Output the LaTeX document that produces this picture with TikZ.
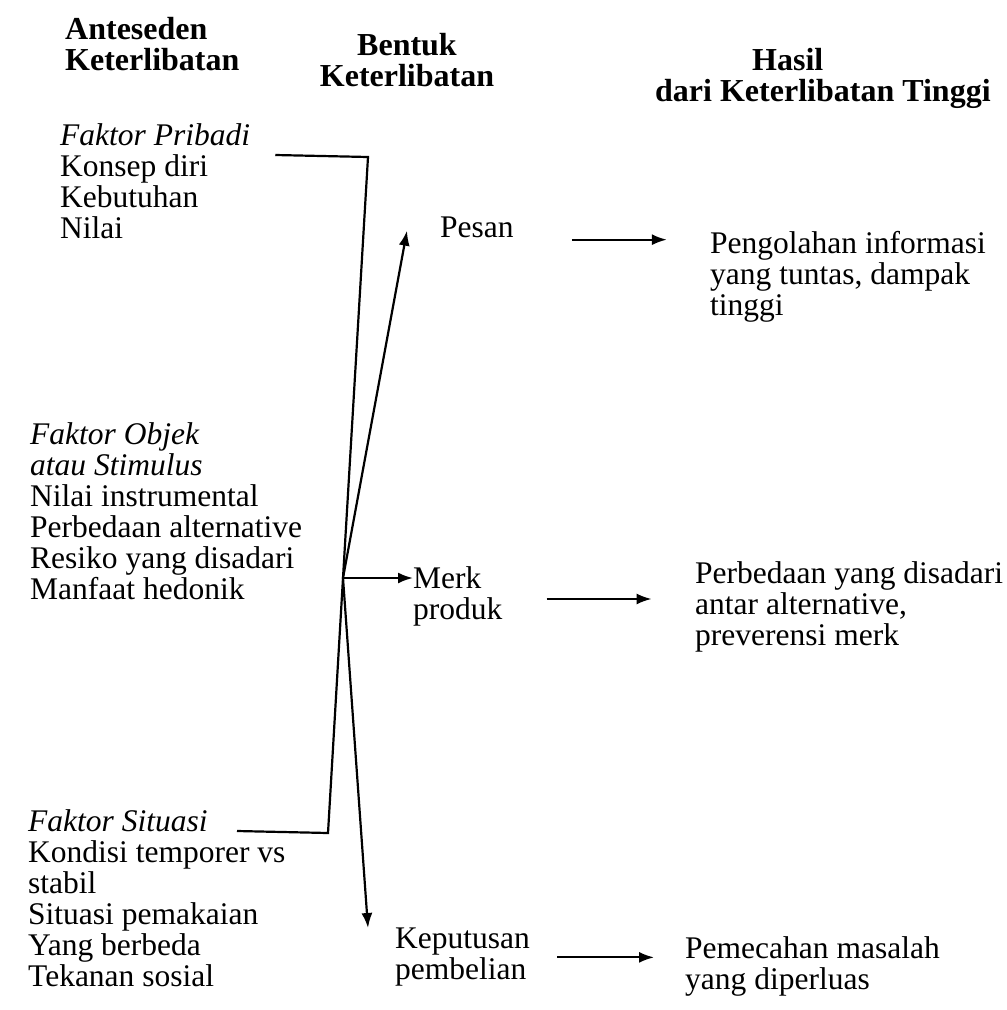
\documentclass[tikz,border=0pt]{standalone}
\usepackage{fontspec}
\setmainfont{Liberation Serif}
\usetikzlibrary{arrows.meta,positioning}

\tikzset{
  isi/.style={anchor=north west, inner sep=0pt, align=left,
    font=\fontsize{31.5}{31}\selectfont},
  judul/.style={isi, font=\fontsize{32}{31}\selectfont\bfseries},
  garis/.style={line width=2.2pt, line join=miter},
  panah/.style={garis, -{Latex[length=15pt,width=11pt]}}
}

\begin{document}
\begin{tikzpicture}[x=1pt,y=-1pt]
  \useasboundingbox (0,0) rectangle (1007,1010);
  % judul kolom
  \node[judul] (jAnteseden) at (65,17) {Anteseden\\Keterlibatan};
  \node[judul, align=center, anchor=north] (jBentuk) at (407,33) {Bentuk\\Keterlibatan};
  \node[judul] (jHasil) at (655,48) {\hspace*{97pt}Hasil\\dari Keterlibatan Tinggi};

  % anteseden
  \node[isi] (pribadi) at (60,123) {\textit{Faktor Pribadi}\\Konsep diri\\Kebutuhan\\Nilai};
  \node[isi] (objek) at (30,422) {\textit{Faktor Objek}\\\textit{atau Stimulus}\\Nilai instrumental\\Perbedaan alternative\\Resiko yang disadari\\Manfaat hedonik};
  \node[isi] (situasi) at (28,809) {\textit{Faktor Situasi}\\Kondisi temporer vs\\stabil\\Situasi pemakaian\\Yang berbeda\\Tekanan sosial};

  % bentuk
  \node[isi] (pesan) at (440,217) {Pesan};
  \node[isi] (merk) at (413,566) {Merk\\produk};
  \node[isi] (keputusan) at (395,928) {Keputusan\\pembelian};

  % hasil
  \node[isi] (hasilA) at (710,231) {Pengolahan informasi\\yang tuntas, dampak\\tinggi};
  \node[isi] (hasilB) at (695,561) {Perbedaan yang disadari\\antar alternative,\\preverensi merk};
  \node[isi] (hasilC) at (685,936) {Pemecahan masalah\\yang diperluas};

  \coordinate (hub) at (343,578);
  \coordinate (tekukA) at (368,157);
  \coordinate (tekukB) at (328,833);

  \draw[garis] ([xshift=25pt,yshift=-32pt]pribadi.north east) -- (tekukA) -- (hub);
  \draw[garis] ([xshift=209pt,yshift=-22pt]situasi.north west) -- (tekukB) -- (hub);
  \draw[panah] (hub) -- ([xshift=-33pt,yshift=-3pt]pesan.west);
  \draw[panah] (hub) -- (hub -| merk.west);
  \draw[panah] (hub) -- ([xshift=-27pt]keputusan.north west);

  \draw[panah] ([xshift=58pt,yshift=-12pt]pesan.east) -- ++(95,0);
  \draw[panah] ([xshift=44pt,yshift=-3pt]merk.east) -- ++(105,0);
  \draw[panah] ([xshift=27pt]keputusan.east) -- ++(97,0);
\end{tikzpicture}
\end{document}
